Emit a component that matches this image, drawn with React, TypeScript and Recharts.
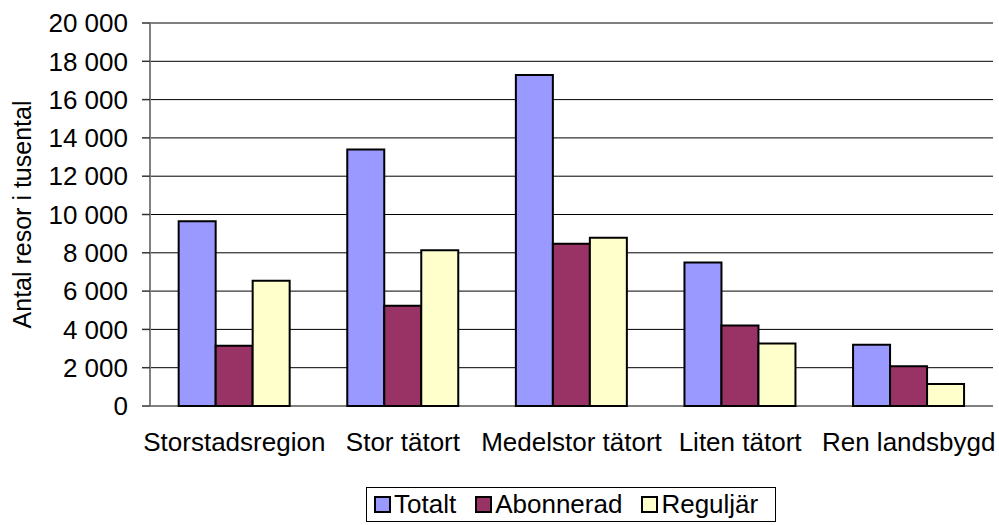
import React from 'react';
import {
  BarChart, Bar, XAxis, YAxis, CartesianGrid, Legend, ReferenceLine,
} from 'recharts';

// ── data ─────────────────────────────────────────────────────────────────────

const CATEGORIES = ['Storstadsregion', 'Stor tätort', 'Medelstor tätort', 'Liten tätort', 'Ren landsbygd'];
const TOTALT     = [9650, 13400, 17280, 7500, 3200];
const ABONNERAD  = [3150, 5240, 8475, 4210, 2070];
const REGULJAR   = [6540, 8130, 8790, 3270, 1150];
const Y_TICKS    = [0, 2000, 4000, 6000, 8000, 10000, 12000, 14000, 16000, 18000, 20000];
const EDGE_TICKS = [0, 1, 2, 3, 4, 5];

const SERIES = [
  { key: 'totalt',    name: 'Totalt',    color: '#9999FF' },
  { key: 'abonnerad', name: 'Abonnerad', color: '#993366' },
  { key: 'reguljar',  name: 'Reguljär',  color: '#FFFFCC' },
];

const rows = CATEGORIES.map((c, i) => ({
  cat: c,
  totalt: TOTALT[i],
  abonnerad: ABONNERAD[i],
  reguljar: REGULJAR[i],
}));

// ── helpers ──────────────────────────────────────────────────────────────────

const FONT = "'Liberation Sans', Arial, sans-serif";
const TICK = { fill: '#000', fontSize: 26, fontFamily: FONT };

function fmtNum(v: number) {
  return String(v).replace(/\B(?=(\d{3})+(?!\d))/g, ' ');
}

function LegendBox() {
  return (
    <div
      style={{
        display: 'inline-flex',
        alignItems: 'center',
        boxSizing: 'border-box',
        border: '1px solid #000',
        width: 410,
        height: 35,
        padding: '0 0 0 7px',
        fontFamily: FONT,
        fontSize: 26,
        color: '#000',
        whiteSpace: 'nowrap',
      }}
    >
      {SERIES.map((s, i) => (
        <span key={s.key} style={{ display: 'flex', alignItems: 'center', marginLeft: i ? 19 : 0 }}>
          <span
            style={{
              width: 13, height: 13, background: s.color,
              border: '2px solid #000', marginRight: 3, display: 'inline-block',
            }}
          />
          {s.name}
        </span>
      ))}
    </div>
  );
}

// ── chart ────────────────────────────────────────────────────────────────────

export default function App() {
  return (
    <div style={{ position: 'absolute', left: 0, top: 0, width: 999, height: 525, background: '#fff' }}>
      <BarChart
        width={999}
        height={525}
        data={rows}
        margin={{ top: 23, right: 6, left: 0, bottom: 3 }}
        barCategoryGap="17%"
        barGap={0}
      >
        <CartesianGrid vertical={false} stroke="#000" strokeWidth={1} yAxisId="l" />
        <XAxis
          xAxisId="edges"
          type="number"
          domain={[0, 5]}
          ticks={EDGE_TICKS}
          tick={false}
          tickSize={8}
          height={0}
          axisLine={{ stroke: '#808080', strokeWidth: 2 }}
          tickLine={{ stroke: '#333', strokeWidth: 1.5 }}
        />
        <XAxis
          xAxisId="cat"
          dataKey="cat"
          height={81}
          axisLine={false}
          tickLine={false}
          tickSize={8}
          tickMargin={19}
          interval={0}
          tick={TICK}
        />
        <YAxis
          yAxisId="l"
          domain={[0, 20000]}
          ticks={Y_TICKS}
          tickFormatter={fmtNum}
          width={150}
          tickSize={8}
          tickMargin={14}
          tick={TICK}
          axisLine={{ stroke: '#808080', strokeWidth: 2 }}
          tickLine={{ stroke: '#333', strokeWidth: 1.5 }}
          label={{
            content: ({ viewBox }: any) => {
              const cx = viewBox.x + 22;
              const cy = viewBox.y + viewBox.height / 2;
              return (
                <text
                  x={cx}
                  y={cy}
                  transform={`rotate(-90 ${cx} ${cy})`}
                  textAnchor="middle"
                  dominantBaseline="central"
                  fontSize={25}
                  fontFamily={FONT}
                  fill="#000"
                >
                  Antal resor i tusental
                </text>
              );
            },
          }}
        />
        <YAxis
          yAxisId="r"
          orientation="right"
          width={0}
          domain={[0, 20000]}
          tick={false}
          tickLine={false}
          axisLine={{ stroke: '#808080', strokeWidth: 2 }}
        />
        <Legend
          verticalAlign="bottom"
          height={35}
          content={() => <LegendBox />}
          wrapperStyle={{ left: 366, width: 'auto' }}
        />
        {SERIES.map(s => (
          <Bar
            key={s.key}
            dataKey={s.key}
            name={s.name}
            xAxisId="cat"
            yAxisId="l"
            fill={s.color}
            stroke="#000"
            strokeWidth={2}
            isAnimationActive={false}
          />
        ))}
        <ReferenceLine y={20000} yAxisId="l" xAxisId="cat" stroke="#808080" strokeWidth={2} />
      </BarChart>
    </div>
  );
}
